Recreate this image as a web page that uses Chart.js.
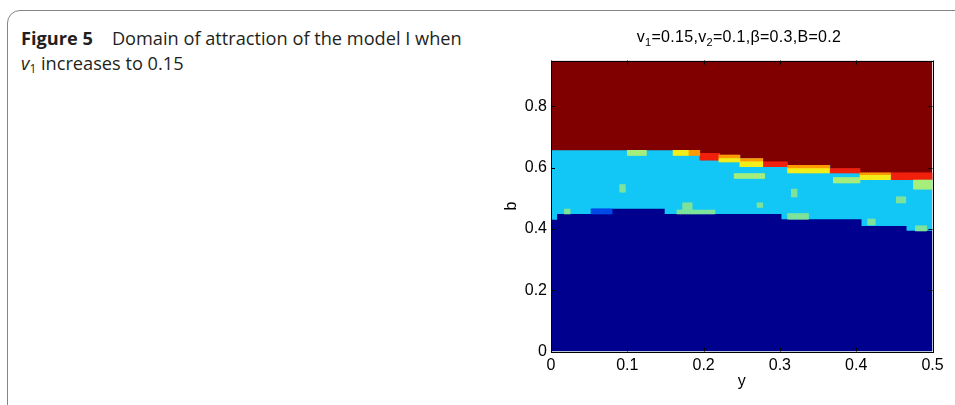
<!DOCTYPE html>
<html>
<head>
<meta charset="utf-8">
<script src="https://cdn.jsdelivr.net/npm/chart.js@4"></script>
<style>
html,body{margin:0;padding:0;background:#fff;width:955px;height:405px;overflow:hidden;position:relative}
#frame{position:absolute;left:7px;top:10px;width:990px;height:420px;border:1.5px solid #858585;border-radius:13px;box-sizing:border-box}
#caption{position:absolute;left:21px;top:26px;font-family:'Open Sans',sans-serif;font-size:18.2px;line-height:24.5px;color:#231f20;white-space:nowrap}
#caption sub{font-size:12px;vertical-align:-3px;line-height:0}
#title{position:absolute;left:539px;top:28px;width:400px;text-align:center;font-family:'Liberation Sans',Arial,sans-serif;font-size:16px;line-height:18px;letter-spacing:0.3px;color:#000;white-space:nowrap}
#title sub{font-size:11px;vertical-align:-4px;line-height:0}
#wrap{position:absolute;left:480px;top:0;width:475px;height:405px}
</style>
</head>
<body>
<div id="frame"></div>
<div id="caption"><b>Figure 5</b><span style="display:inline-block;width:19px"></span>Domain of attraction of the model I when<br><i>v</i><sub>1</sub> increases to 0.15</div>
<div id="wrap"><canvas id="c" width="475" height="405"></canvas></div>
<div id="title">v<sub>1</sub>=0.15,v<sub>2</sub>=0.1,β=0.3,B=0.2</div>
<script>
// ---- axes ----
const xTicks = [0, 0.1, 0.2, 0.3, 0.4, 0.5];
const xTickLabels = ['0', '0.1', '0.2', '0.3', '0.4', '0.5'];
const yTicks = [0, 0.2, 0.4, 0.6, 0.8];
const yTickLabels = ['0', '0.2', '0.4', '0.6', '0.8'];
const xRange = [0, 0.5];
const yRange = [0, 0.95];
const xTitle = 'y';
const yTitle = 'b';

// ---- region boundaries (value held from each x until the next x) ----
const blueEdgeX   = [0, 0.008, 0.052, 0.080, 0.149, 0.302, 0.407, 0.466, 0.5];
const blueEdgeTop = [0.43, 0.449, 0.449, 0.466, 0.449, 0.432, 0.41, 0.394, 0.394];
const cyanEdgeX   = [0, 0.195, 0.221, 0.248, 0.278, 0.309, 0.366, 0.405, 0.5];
const cyanEdgeTop = [0.657, 0.647, 0.641, 0.630, 0.619, 0.608, 0.597, 0.583, 0.583];
const redEdgeX    = [0, 0.5];
const redEdgeTop  = [0.95, 0.95];

// ---- scattered cells [x0, x1, yLow, yHigh] ----
const yellowCells = [[0.160,0.180,0.640,0.657],[0.221,0.248,0.619,0.630],[0.248,0.278,0.603,0.619],[0.309,0.366,0.583,0.597],[0.405,0.444,0.561,0.575]];
const orangeCells = [[0.180,0.195,0.640,0.657],[0.221,0.248,0.630,0.641],[0.248,0.278,0.619,0.630],[0.309,0.366,0.597,0.608],[0.405,0.444,0.575,0.583]];
const redCells = [[0.195,0.221,0.625,0.647],[0.278,0.309,0.603,0.619],[0.366,0.405,0.583,0.597],[0.444,0.500,0.561,0.583]];
const lightGreenCells = [[0.100,0.126,0.640,0.657],[0.241,0.280,0.565,0.581],[0.370,0.405,0.550,0.568],[0.475,0.500,0.530,0.560]];
const mintCells = [[0.089,0.097,0.520,0.545],[0.316,0.323,0.505,0.530],[0.270,0.277,0.470,0.485],[0.453,0.464,0.485,0.505],[0.415,0.425,0.413,0.432],[0.018,0.024,0.449,0.465],[0.165,0.215,0.449,0.462],[0.172,0.186,0.462,0.485],[0.310,0.337,0.432,0.450],[0.478,0.492,0.394,0.410]];
const brightBlueCells = [[0.052,0.080,0.449,0.466]];

const cellStep = 0.0025;

const C = {
  darkBlue: '#00008f', brightBlue: '#0048e8', cyan: '#12c6f5', mint: '#7ee39a',
  lightGreen: '#a6ee7c', yellow: '#f2ee1a', orange: '#ff9a00', red: '#f0200c', darkRed: '#800000'
};

function cellsToBars(runs) {
  const out = [];
  runs.forEach(([x0, x1, lo, hi]) => {
    const i0 = Math.round(x0 / cellStep);
    const i1 = Math.max(i0 + 1, Math.round(x1 / cellStep));
    for (let i = i0; i < i1; i++) out.push({x: (i + 0.5) * cellStep, y: [lo, hi]});
  });
  return out;
}
function edge(xs, ys) { return xs.map((x, i) => ({x, y: ys[i]})); }
function region(xs, ys, color, order) {
  return {type: 'line', data: edge(xs, ys), stepped: 'before', fill: 'origin', backgroundColor: color,
    borderColor: 'rgba(0,0,0,0)', borderWidth: 0, pointRadius: 0, order};
}
function cells(runs, color) {
  return {type: 'bar', data: cellsToBars(runs), backgroundColor: color, borderWidth: 0,
    grouped: false, barPercentage: 1, categoryPercentage: 1, order: 0};
}

const frame = {
  id: 'frame',
  afterDatasetsDraw(chart) {
    const {ctx, chartArea: a, scales: {x, y}} = chart;
    const L = 4;
    ctx.save();
    ctx.strokeStyle = '#000';
    ctx.lineWidth = 1;
    ctx.beginPath();
    x.ticks.forEach(t => {
      const px = Math.round(x.getPixelForValue(t.value)) + 0.5;
      ctx.moveTo(px, a.bottom); ctx.lineTo(px, a.bottom - L);
      ctx.moveTo(px, a.top); ctx.lineTo(px, a.top + L);
    });
    y.ticks.forEach(t => {
      const py = Math.round(y.getPixelForValue(t.value)) + 0.5;
      ctx.moveTo(a.left, py); ctx.lineTo(a.left + L, py);
      ctx.moveTo(a.right, py); ctx.lineTo(a.right - L, py);
    });
    ctx.stroke();
    ctx.strokeRect(Math.round(a.left) + 0.5, Math.round(a.top) + 0.5, Math.round(a.right - a.left), Math.round(a.bottom - a.top));
    ctx.restore();
  }
};

const tickFont = {family: "'Liberation Sans', Arial, sans-serif", size: 16};

new Chart(document.getElementById('c'), {
  type: 'bar',
  data: {
    datasets: [
      cells(brightBlueCells, C.brightBlue),
      cells(mintCells, C.mint),
      cells(lightGreenCells, C.lightGreen),
      cells(yellowCells, C.yellow),
      cells(orangeCells, C.orange),
      cells(redCells, C.red),
      region(blueEdgeX, blueEdgeTop, C.darkBlue, 1),
      region(cyanEdgeX, cyanEdgeTop, C.cyan, 2),
      region(redEdgeX, redEdgeTop, C.darkRed, 3)
    ]
  },
  options: {
    responsive: false,
    animation: false,
    events: [],
    layout: {padding: {top: 60.5, right: 22.5, left: 0, bottom: 0}},
    plugins: {legend: {display: false}, tooltip: {enabled: false}, title: {display: false}},
    scales: {
      x: {
        type: 'linear', min: xRange[0], max: xRange[1], offset: false,
        grid: {display: false, offset: false, drawTicks: false},
        border: {display: false},
        afterBuildTicks: s => { s.ticks = xTicks.map(v => ({value: v})); },
        afterFit: s => { s.height = 53.5; },
        ticks: {autoSkip: false, maxRotation: 0, padding: 4, color: '#000', font: tickFont,
          callback: (v, i) => xTickLabels[i]},
        title: {display: true, text: xTitle, color: '#000', font: tickFont, padding: {top: 0, bottom: 13.5}}
      },
      y: {
        min: yRange[0], max: yRange[1],
        grid: {display: false, drawTicks: false},
        border: {display: false},
        afterBuildTicks: s => { s.ticks = yTicks.map(v => ({value: v})); },
        afterFit: s => { s.width = 71; },
        ticks: {autoSkip: false, padding: 4, color: '#000', font: tickFont,
          callback: (v, i) => yTickLabels[i]},
        title: {display: true, text: yTitle, color: '#000', font: tickFont, padding: {top: 22, bottom: 0}}
      }
    }
  },
  plugins: [frame]
});
</script>
</body>
</html>
